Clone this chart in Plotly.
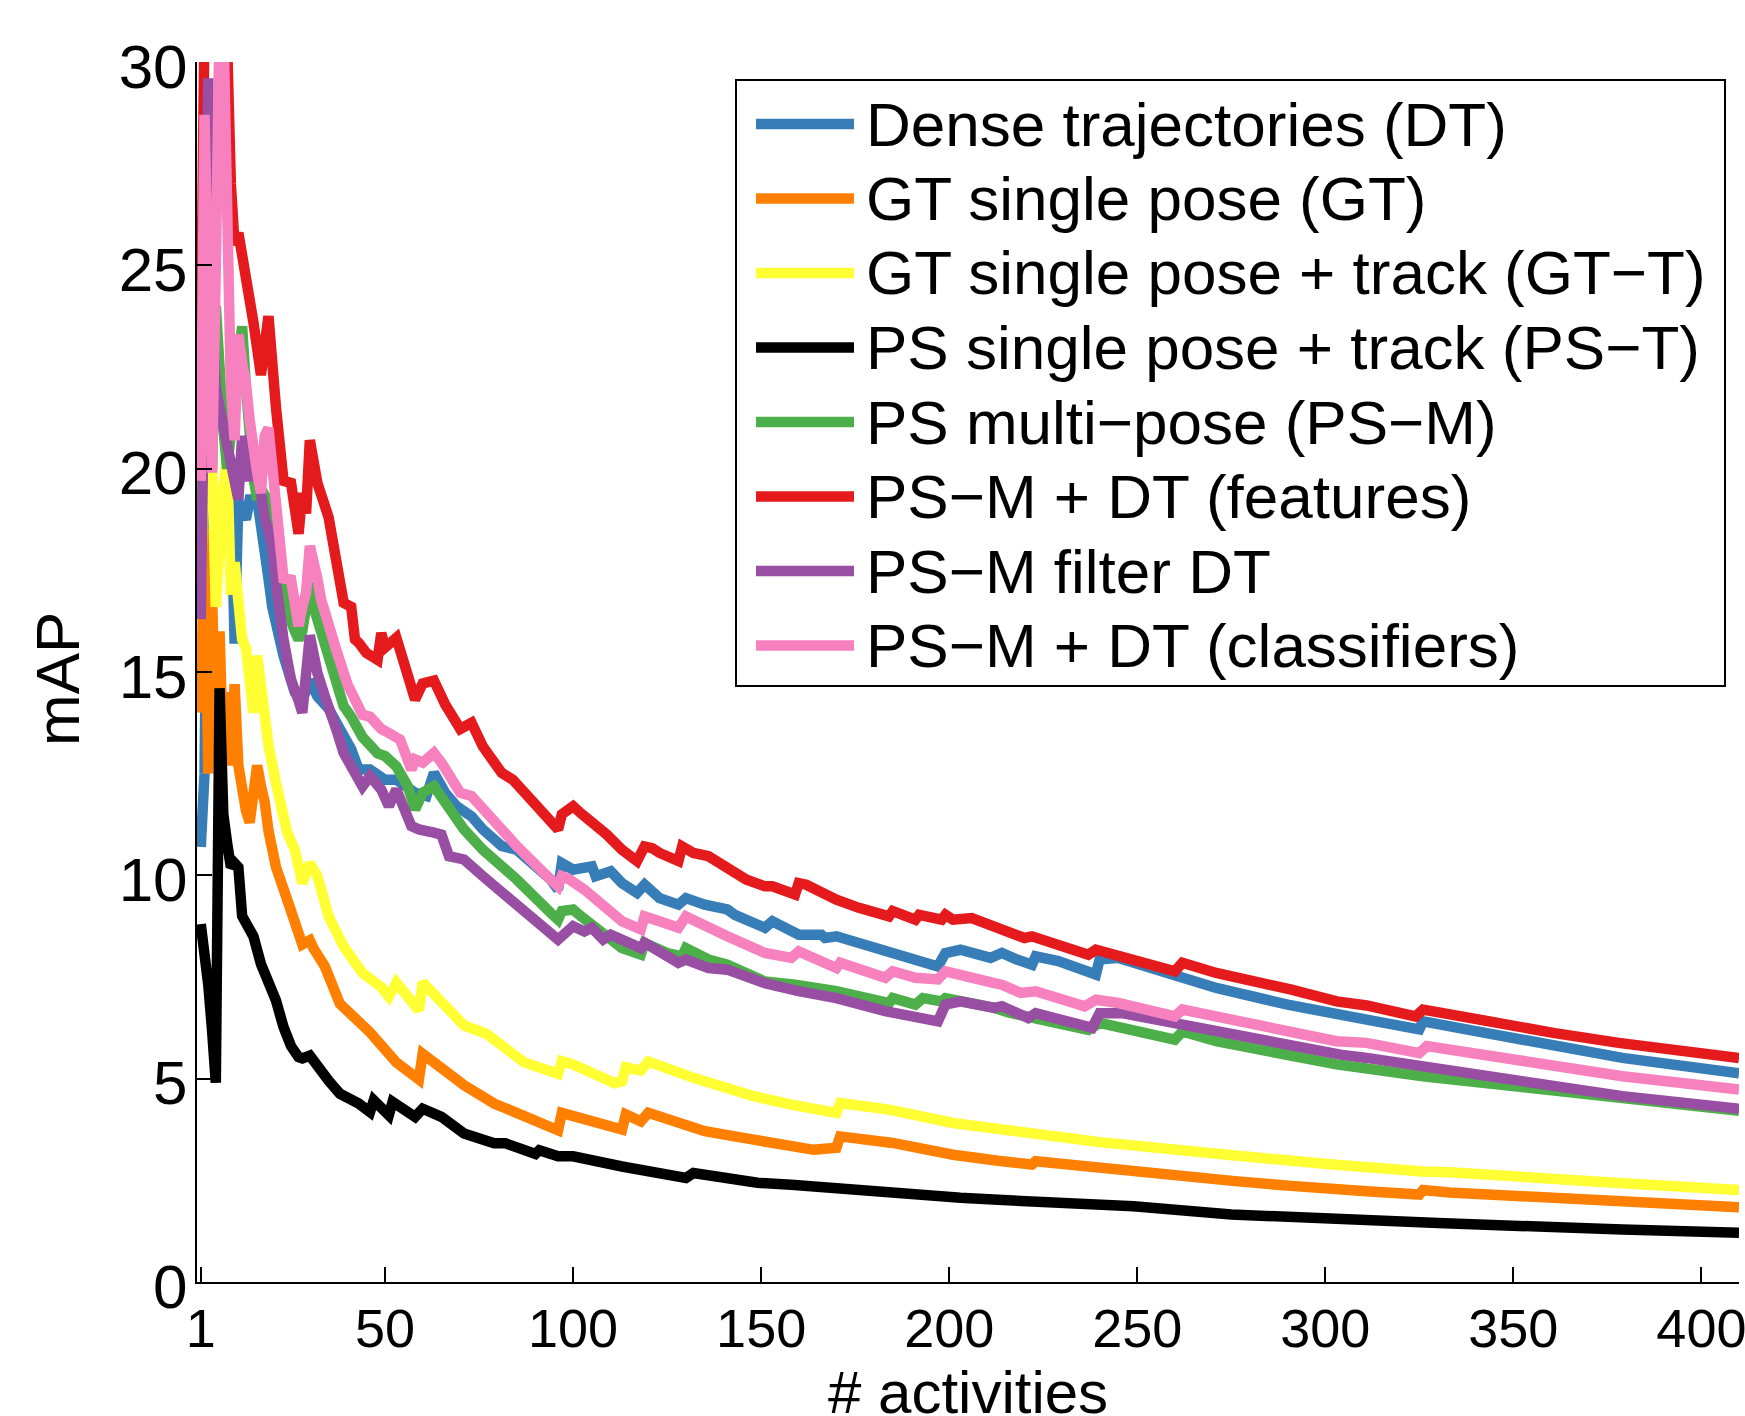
import plotly.graph_objects as go

# ---------------- data ----------------
x_tick_vals = [1, 50, 100, 150, 200, 250, 300, 350, 400]
y_tick_vals = [0, 5, 10, 15, 20, 25, 30]
x_title = "# activities"
y_title = "mAP"

series_names = [
    "Dense trajectories (DT)",
    "GT single pose (GT)",
    "GT single pose + track (GT\u2212T)",
    "PS single pose + track (PS\u2212T)",
    "PS multi\u2212pose (PS\u2212M)",
    "PS\u2212M + DT (features)",
    "PS\u2212M filter DT",
    "PS\u2212M + DT (classifiers)",
]
series_colors = ["#377eb8", "#ff7f00", "#ffff33", "#000000",
                 "#4daf4a", "#e41a1c", "#984ea3", "#f781bf"]

dt_pts = [(1,10.7),(2,12.5),(3,21.0),(4,24.0),(5,23.0),(6,22.0),(7,21.0),(8,20.5),(9,19.8),(10,15.7),
          (11,19.2),(12,18.9),(13,18.75),(14,19.24),(16,19.24),(17,18.6),(18,18.1),(19,17.3),(20,16.6),
          (21,16.1),(22,15.8),(23,15.4),(24,15.1),(25,14.8),(26,14.5),(28,14.3),(30,14.8),(32,14.4),
          (35,14.1),(38,13.6),(41,13.1),(43,12.6),(46,12.6),(50,12.35),(53,12.35),(58,12.03),(61,11.95),
          (63,12.52),(66,12.03),(69,11.7),(73,11.45),(76,11.13),(81,10.72),(85,10.63),(94,9.9),(96,9.65),
          (97,10.3),(100,10.14),(103,10.22),(105,10.22),(106,9.98),(110,10.1),(113,9.81),(117,9.57),
          (119,9.77),(123,9.44),(128,9.28),(130,9.44),(135,9.28),(141,9.16),(143,9.03),(151,8.71),
          (153,8.87),(160,8.54),(166,8.54),(167,8.46),(170,8.5),(180,8.21),(185,8.13),(197,7.76),
          (199,8.09),(203,8.17),(211,7.97),(214,8.09),(218,7.93),(222,7.80),(223,8.01),(229,7.89),
          (239,7.56),(240,7.93),(245,7.97),(261,7.48),(271,7.23),(290,6.82),(296,6.70),(311,6.45),
          (325,6.21),(326,6.41),(340,6.17),(361,5.80),(379,5.51),(410,5.13)]

gt_pts = [(1,14.0),(2,18.5),(3,12.5),(4,17.0),(5,13.0),(6,16.0),(7,12.8),(8,14.5),(9,12.7),(10,14.7),
          (11,12.7),(12,12.0),(13,11.6),(14,11.3),(15,12.0),(16,12.7),(17,12.2),(18,11.8),(19,11.1),
          (21,10.2),(24,9.4),(26,8.75),(28,8.3),(30,8.4),(31,8.2),(34,7.76),(38,6.84),(46,6.14),
          (49,5.78),(53,5.4),(58,5.05),(59,4.98),(60,5.61),(71,4.84),(79,4.39),(89,3.98),(96,3.73),
          (97,4.16),(105,3.95),(113,3.75),(114,4.12),(118,3.95),(120,4.16),(135,3.71),(148,3.5),
          (164,3.25),(170,3.3),(171,3.58),(185,3.42),(201,3.13),(213,2.98),(222,2.89),(223,2.97),
          (267,2.52),(276,2.48),(290,2.37),(302,2.27),(311,2.23),(325,2.15),(326,2.26),(333,2.2),
          (379,1.97),(410,1.84)]

gtt_pts = [(1,17.0),(2,20.5),(3,19.0),(4,20.3),(5,16.6),(6,18.5),(7,19.5),(8,20.3),(9,16.9),(10,17.7),
           (11,16.8),(12,15.8),(13,15.6),(14,15.0),(15,14.0),(16,15.4),(17,14.6),(18,13.8),(19,13.2),
           (21,12.27),(24,11.05),(26,10.63),(28,9.81),(30,10.3),(32,9.98),(35,8.99),(39,8.25),(44,7.6),
           (46,7.49),(49,7.25),(51,7.02),(53,7.36),(59,6.68),(60,7.37),(71,6.31),(77,6.1),(82,5.75),
           (87,5.4),(96,5.12),(97,5.43),(100,5.35),(111,4.89),(113,4.94),(114,5.28),(118,5.2),
           (120,5.42),(132,5.02),(148,4.57),(158,4.36),(170,4.16),(171,4.4),(184,4.24),(201,3.91),
           (213,3.75),(240,3.44),(276,3.11),(290,2.97),(302,2.89),(326,2.72),(333,2.7),(379,2.43),
           (410,2.26)]

pst_pts = [(1,8.8),(2,8.1),(3,7.3),(4,6.2),(5,4.9),(6,14.6),(7,11.5),(8,10.8),(9,10.2),(10,10.3),
           (11,10.2),(12,9.0),(14,8.6),(15,8.5),(17,7.82),(18,7.6),(20,7.27),(21,6.92),(23,6.27),
           (25,5.8),(27,5.53),(28,5.5),(30,5.57),(32,5.29),(35,4.95),(38,4.63),(40,4.55),(43,4.39),
           (46,4.18),(47,4.47),(51,4.1),(52,4.43),(58,4.06),(60,4.26),(65,4.06),(71,3.65),(79,3.41),
           (82,3.41),(90,3.15),(91,3.24),(96,3.09),(100,3.09),(113,2.84),(130,2.56),(132,2.68),
           (149,2.44),(158,2.39),(183,2.19),(203,2.07),(213,2.02),(249,1.86),(275,1.66),(290,1.62),
           (302,1.53),(330,1.45),(379,1.29),(410,1.21)]

psm_pts = [(1,18.4),(2,26.0),(3,22.0),(4,20.0),(5,24.0),(6,22.0),(7,21.0),(8,20.0),(9,21.0),(10,22.0),
           (11,22.8),(12,23.5),(13,22.0),(14,20.4),(15,19.8),(16,19.24),(17,19.5),(19,19.2),(20,18.6),
           (22,17.3),(24,16.5),(26,16.0),(27,15.8),(28,16.0),(29,16.5),(30,17.2),(31,16.6),(33,15.96),
           (35,15.3),(37,14.73),(39,14.16),(41,13.9),(44,13.4),(48,13.0),(50,12.93),(53,12.68),
           (56,12.2),(58,11.62),(60,12.03),(63,12.19),(67,11.62),(71,11.13),(76,10.63),(85,9.9),
           (94,9.08),(96,8.91),(97,9.12),(100,9.16),(102,9.0),(108,8.54),(113,8.21),(118,8.05),
           (119,8.34),(125,8.09),(129,8.01),(130,8.21),(136,7.93),(141,7.8),(151,7.39),(159,7.31),
           (170,7.15),(184,6.86),(185,6.98),(191,6.82),(193,6.98),(198,6.9),(199,6.98),(212,6.74),
           (216,6.62),(237,6.2),(240,6.37),(260,5.96),(262,6.16),(271,5.92),(290,5.55),(303,5.35),
           (326,5.06),(361,4.69),(379,4.53),(410,4.21)]

feat_pts = [(1,22.8),(2,31.0),(3,31.0),(4,31.0),(5,31.0),(6,32.0),(7,31.0),(8,30.5),(9,27.0),(10,25.5),
            (11,25.8),(12,25.3),(13,24.8),(15,23.6),(17,22.3),(19,23.75),(21,21.5),(23,19.7),(25,19.65),
            (27,18.4),(28,19.4),(29,18.9),(30,20.7),(32,19.65),(35,18.8),(37,17.6),(39,16.7),(41,16.6),
            (42,15.8),(43,15.72),(45,15.47),(48,15.3),(49,15.96),(50,15.6),(53,15.84),(58,14.32),
            (60,14.72),(63,14.79),(66,14.2),(70,13.6),(73,13.75),(76,13.17),(81,12.52),(84,12.35),
            (88,11.94),(96,11.13),(97,11.5),(100,11.7),(102,11.53),(105,11.33),(109,11.0),(113,10.63),
            (117,10.35),(119,10.71),(121,10.67),(123,10.55),(128,10.35),(129,10.71),(132,10.55),
            (136,10.47),(141,10.22),(146,9.9),(151,9.73),(153,9.73),(159,9.53),(160,9.81),(162,9.77),
            (170,9.4),(176,9.2),(184,8.99),(185,9.12),(191,8.91),(192,9.03),(198,8.91),(199,9.03),
            (201,8.91),(206,8.95),(212,8.75),(216,8.6),(220,8.46),(222,8.5),(237,8.05),(239,8.17),
            (246,8.01),(260,7.64),(262,7.85),(271,7.6),(291,7.19),(303,6.9),(311,6.8),(324,6.53),
            (326,6.70),(340,6.45),(361,6.12),(378,5.88),(410,5.51)]

filt_pts = [(1,16.3),(2,25.0),(3,29.6),(4,24.0),(5,22.0),(6,21.5),(7,21.0),(8,20.5),(9,20.0),(10,19.6),
            (11,19.24),(12,20.8),(13,20.2),(14,19.7),(15,20.4),(16,20.0),(17,19.4),(18,18.8),(20,18.1),
            (21,17.2),(22,16.3),(23,15.8),(24,15.3),(25,14.81),(27,14.3),(28,14.0),(30,15.9),(31,15.4),
            (32,14.98),(34,14.4),(35,14.16),(37,13.6),(39,13.01),(42,12.44),(44,12.19),(46,12.44),
            (49,12.11),(51,11.7),(53,12.11),(57,11.21),(59,11.13),(63,11.05),(65,11.0),(67,10.47),
            (71,10.39),(76,9.98),(85,9.24),(94,8.5),(96,8.42),(100,8.75),(103,8.62),(105,8.71),
            (108,8.42),(110,8.54),(118,8.21),(119,8.34),(128,7.85),(130,7.93),(136,7.72),(141,7.68),
            (151,7.35),(160,7.15),(170,6.98),(183,6.66),(197,6.41),(199,6.82),(203,6.9),(212,6.74),
            (214,6.78),(221,6.49),(223,6.61),(238,6.25),(240,6.61),(246,6.61),(261,6.33),(271,6.16),
            (291,5.8),(304,5.59),(311,5.51),(326,5.3),(361,4.81),(379,4.57),(410,4.26)]

clf_pts = [(1,19.7),(2,28.7),(3,24.0),(4,19.9),(5,25.0),(6,31.0),(7,31.0),(8,26.0),(9,22.0),(10,20.7),
           (11,23.3),(12,22.6),(13,22.1),(14,21.2),(15,20.4),(16,19.9),(17,19.4),(18,20.8),(19,21.0),
           (20,20.2),(21,19.2),(22,18.1),(23,17.3),(25,17.27),(27,16.13),(28,16.6),(29,16.95),(30,18.1),
           (31,17.8),(32,17.3),(33,16.78),(35,16.1),(37,15.55),(40,14.7),(44,13.95),(46,13.9),(49,13.6),
           (51,13.5),(54,13.34),(57,12.6),(58,12.85),(60,12.77),(63,13.01),(65,12.77),(70,12.03),
           (73,11.95),(76,11.62),(85,10.72),(94,9.9),(96,9.73),(97,9.98),(99,9.9),(103,9.65),(108,9.28),
           (113,8.87),(118,8.67),(119,8.99),(123,8.87),(128,8.71),(130,8.99),(134,8.79),(141,8.5),
           (151,8.09),(158,7.97),(160,8.13),(170,7.72),(171,7.85),(183,7.48),(185,7.64),(191,7.48),
           (197,7.44),(199,7.64),(212,7.35),(214,7.31),(219,7.11),(223,7.15),(236,6.78),(239,6.94),
           (245,6.86),(260,6.53),(262,6.70),(271,6.53),(290,6.12),(303,5.92),(311,5.88),(317,5.76),
           (325,5.63),(327,5.80),(352,5.43),(379,5.06),(410,4.73)]

all_series = [dt_pts, gt_pts, gtt_pts, pst_pts, psm_pts, feat_pts, filt_pts, clf_pts]

# ---------------- figure ----------------
W, H = 1745, 1416
ML, MR, MT, MB = 197, 6, 62, 134
PW, PH = W - ML - MR, H - MT - MB
FONT = "Liberation Sans, Arial, Helvetica, sans-serif"
LINE_W = 10.5


def paper_x(xp):
    return (xp - ML) / PW


def paper_y(yp):
    return (H - MB - yp) / PH


fig = go.Figure()
for name, color, pts in zip(series_names, series_colors, all_series):
    xs = [p[0] for p in pts]
    ys = [p[1] for p in pts]
    fig.add_trace(go.Scatter(x=xs, y=ys, mode="lines", name=name, showlegend=False,
                             line=dict(color=color, width=LINE_W)))

# manual legend (MATLAB style box with long line samples)
box_l, box_r, box_t, box_b = 736, 1725, 80, 686
row0, row_step = 124, 74.5
samp_l, samp_r, text_l = 756, 854, 864
shapes = [dict(type="rect", xref="paper", yref="paper",
               x0=paper_x(box_l), x1=paper_x(box_r), y0=paper_y(box_b), y1=paper_y(box_t),
               line=dict(color="black", width=2), fillcolor="white", layer="above")]
annotations = []
for i, (name, color) in enumerate(zip(series_names, series_colors)):
    yc = row0 + i * row_step
    shapes.append(dict(type="line", xref="paper", yref="paper",
                       x0=paper_x(samp_l), x1=paper_x(samp_r), y0=paper_y(yc), y1=paper_y(yc),
                       line=dict(color=color, width=LINE_W), layer="above"))
    annotations.append(dict(text=name, xref="paper", yref="paper", x=paper_x(text_l), y=paper_y(yc),
                            xanchor="left", yanchor="middle", showarrow=False,
                            font=dict(family=FONT, size=62, color="black")))

# axis titles placed as annotations (the plot margins are fixed like the original figure)
annotations.append(dict(text=x_title, xref="paper", yref="paper", x=0.5, y=paper_y(1392),
                        xanchor="center", yanchor="middle", showarrow=False,
                        font=dict(family=FONT, size=60, color="black")))
annotations.append(dict(text=y_title, xref="paper", yref="paper", x=paper_x(58), y=paper_y(679),
                        xanchor="center", yanchor="middle", showarrow=False, textangle=-90,
                        font=dict(family=FONT, size=62, color="black")))

fig.update_layout(
    width=W, height=H,
    margin=dict(l=ML, r=MR, t=MT, b=MB, pad=0, autoexpand=False),
    paper_bgcolor="white", plot_bgcolor="white",
    font=dict(family=FONT, color="black"),
    showlegend=False,
    shapes=shapes, annotations=annotations,
    xaxis=dict(range=[0, 410], tickvals=x_tick_vals, ticktext=[str(v) for v in x_tick_vals],
               ticks="inside", ticklen=15, tickwidth=2, tickcolor="black",
               showline=True, linecolor="black", linewidth=2, mirror=False,
               showgrid=False, zeroline=False, tickfont=dict(size=54),
               ticklabelstandoff=-2, ticklabeloverflow="allow", automargin=False),
    yaxis=dict(range=[0, 30], tickvals=y_tick_vals, ticktext=[str(v) for v in y_tick_vals],
               ticks="inside", ticklen=15, tickwidth=2, tickcolor="black",
               showline=True, linecolor="black", linewidth=2, mirror=False,
               showgrid=False, zeroline=False, tickfont=dict(size=62),
               ticklabelstandoff=-5, ticklabelshift=4, ticklabeloverflow="allow", automargin=False),
)

fig.write_html("out.html")
